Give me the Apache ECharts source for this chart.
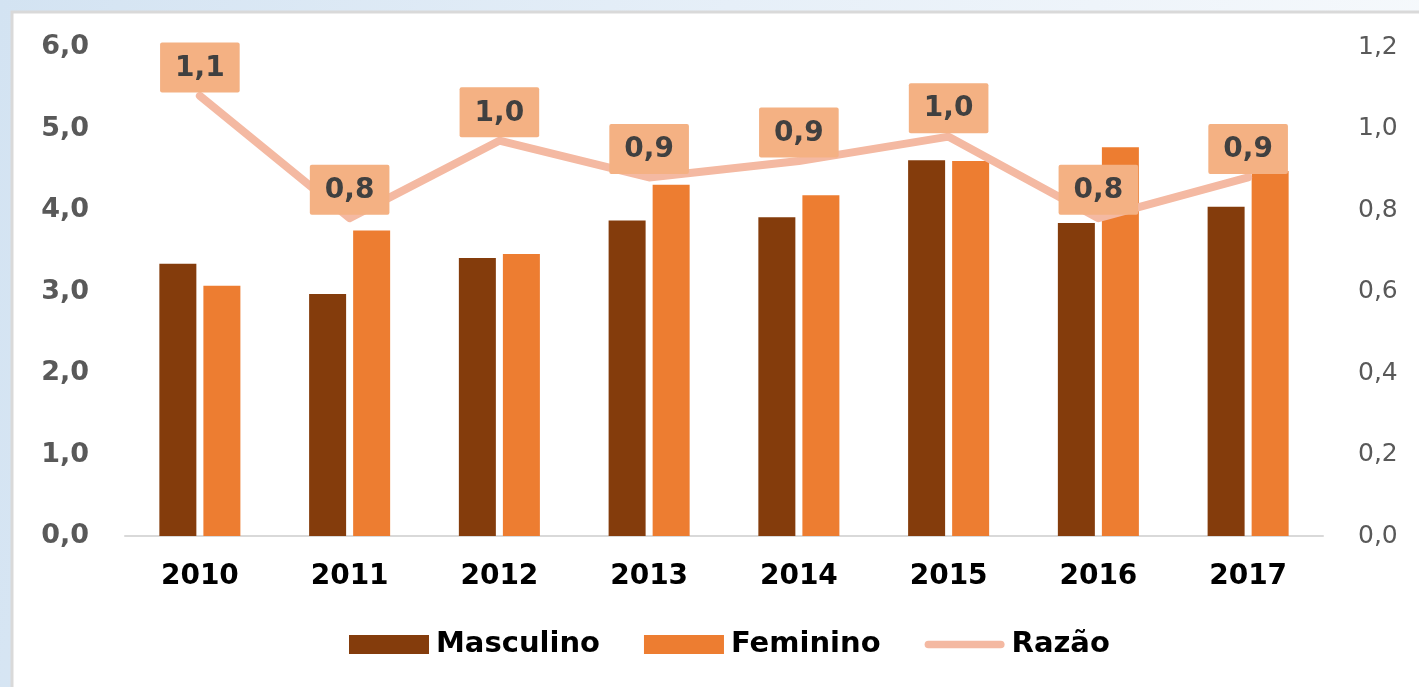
<!DOCTYPE html>
<html>
<head>
<meta charset="utf-8">
<script src="https://cdn.jsdelivr.net/npm/echarts@6/dist/echarts.min.js"></script>
<style>
  html, body { margin: 0; padding: 0; background: #fff; }
  #chart { width: 1419px; height: 687px; }
</style>
</head>
<body>
<div id="chart"></div>
<script>
// Anos
const categories = ['2010', '2011', '2012', '2013', '2014', '2015', '2016', '2017'];
// Taxas por sexo (eixo esquerdo)
const masculino = [3.34, 2.97, 3.41, 3.87, 3.91, 4.61, 3.84, 4.04];
const feminino  = [3.07, 3.75, 3.46, 4.31, 4.18, 4.60, 4.77, 4.48];
// Razão masculino/feminino (eixo direito)
const razao     = [1.08, 0.78, 0.97, 0.88, 0.92, 0.98, 0.78, 0.88];
// Eixos
const leftTicks  = { min: 0, max: 6, interval: 1 };
const rightTicks = { min: 0, max: 1.2, interval: 0.2 };

const fmt = v => Number(v).toFixed(1).replace('.', ',');
const FONT = 'DejaVu Sans';

const chart = echarts.init(document.getElementById('chart'), null, { renderer: 'canvas' });

chart.setOption({
  animation: false,
  backgroundColor: 'transparent',
  textStyle: { fontFamily: FONT },
  graphic: [
    {
      type: 'rect', z: -10, silent: true,
      shape: { x: 0, y: 0, width: 1419, height: 687 },
      style: {
        fill: new echarts.graphic.LinearGradient(0, 0, 1, 0.35, [
          { offset: 0, color: '#d3e3f2' },
          { offset: 0.5, color: '#e6eff8' },
          { offset: 1, color: '#f6f9fc' }
        ])
      }
    },
    {
      type: 'rect', z: -9, silent: true,
      shape: { x: 12, y: 12, width: 1440, height: 700 },
      style: { fill: '#ffffff', stroke: '#d9d9d9', lineWidth: 3 }
    }
  ],
  grid: { left: 125, right: 96, top: 47, bottom: 151, containLabel: false },
  legend: {
    data: [
      { name: 'Masculino', icon: 'rect' },
      { name: 'Feminino', icon: 'rect' },
      { name: 'Razão', icon: 'path://M4,0 H80 A4,4 0 0 1 80,8 H4 A4,4 0 0 1 4,0 Z' }
    ],
    left: 344,
    top: 625,
    itemWidth: 80,
    itemHeight: 19,
    itemGap: 44,
    textStyle: { fontFamily: FONT, fontSize: 29, fontWeight: 'bold', color: '#000', padding: [0, 0, 0, 2] }
  },
  xAxis: {
    type: 'category',
    data: categories,
    axisTick: { show: false },
    axisLine: { lineStyle: { color: '#d9d9d9', width: 2 } },
    axisLabel: { fontFamily: FONT, fontSize: 28, fontWeight: 'bold', color: '#000', margin: 27 }
  },
  yAxis: [
    {
      type: 'value',
      min: leftTicks.min, max: leftTicks.max, interval: leftTicks.interval,
      splitLine: { show: false },
      axisLine: { show: false },
      axisTick: { show: false },
      axisLabel: { fontFamily: FONT, fontSize: 27, fontWeight: 'bold', color: '#595959', margin: 36, formatter: fmt }
    },
    {
      type: 'value',
      min: rightTicks.min, max: rightTicks.max, interval: rightTicks.interval,
      splitLine: { show: false },
      axisLine: { show: false },
      axisTick: { show: false },
      axisLabel: { fontFamily: FONT, fontSize: 25, color: '#595959', margin: 35, formatter: fmt }
    }
  ],
  series: [
    {
      name: 'Masculino', type: 'bar', data: masculino,
      barWidth: 37, barGap: '19%',
      itemStyle: { color: '#843c0c' }
    },
    {
      name: 'Feminino', type: 'bar', data: feminino,
      barWidth: 37,
      itemStyle: { color: '#ed7d31' }
    },
    {
      name: 'Razão', type: 'line', data: razao, yAxisIndex: 1,
      symbol: 'circle',
      symbolSize: 1,
      showSymbol: true,
      lineStyle: { color: '#f4b9a2', width: 8, cap: 'round', join: 'round' },
      itemStyle: { color: '#f4b9a2' },
      z: 5,
      label: {
        show: true,
        position: 'top',
        distance: 3,
        formatter: p => fmt(p.value),
        fontFamily: FONT, fontSize: 28, fontWeight: 'bold', color: '#404040',
        backgroundColor: '#f4b183',
        padding: [12, 15, 10, 15],
        borderRadius: 2
      },
      labelLayout: { hideOverlap: false }
    }
  ]
});
</script>
</body>
</html>
